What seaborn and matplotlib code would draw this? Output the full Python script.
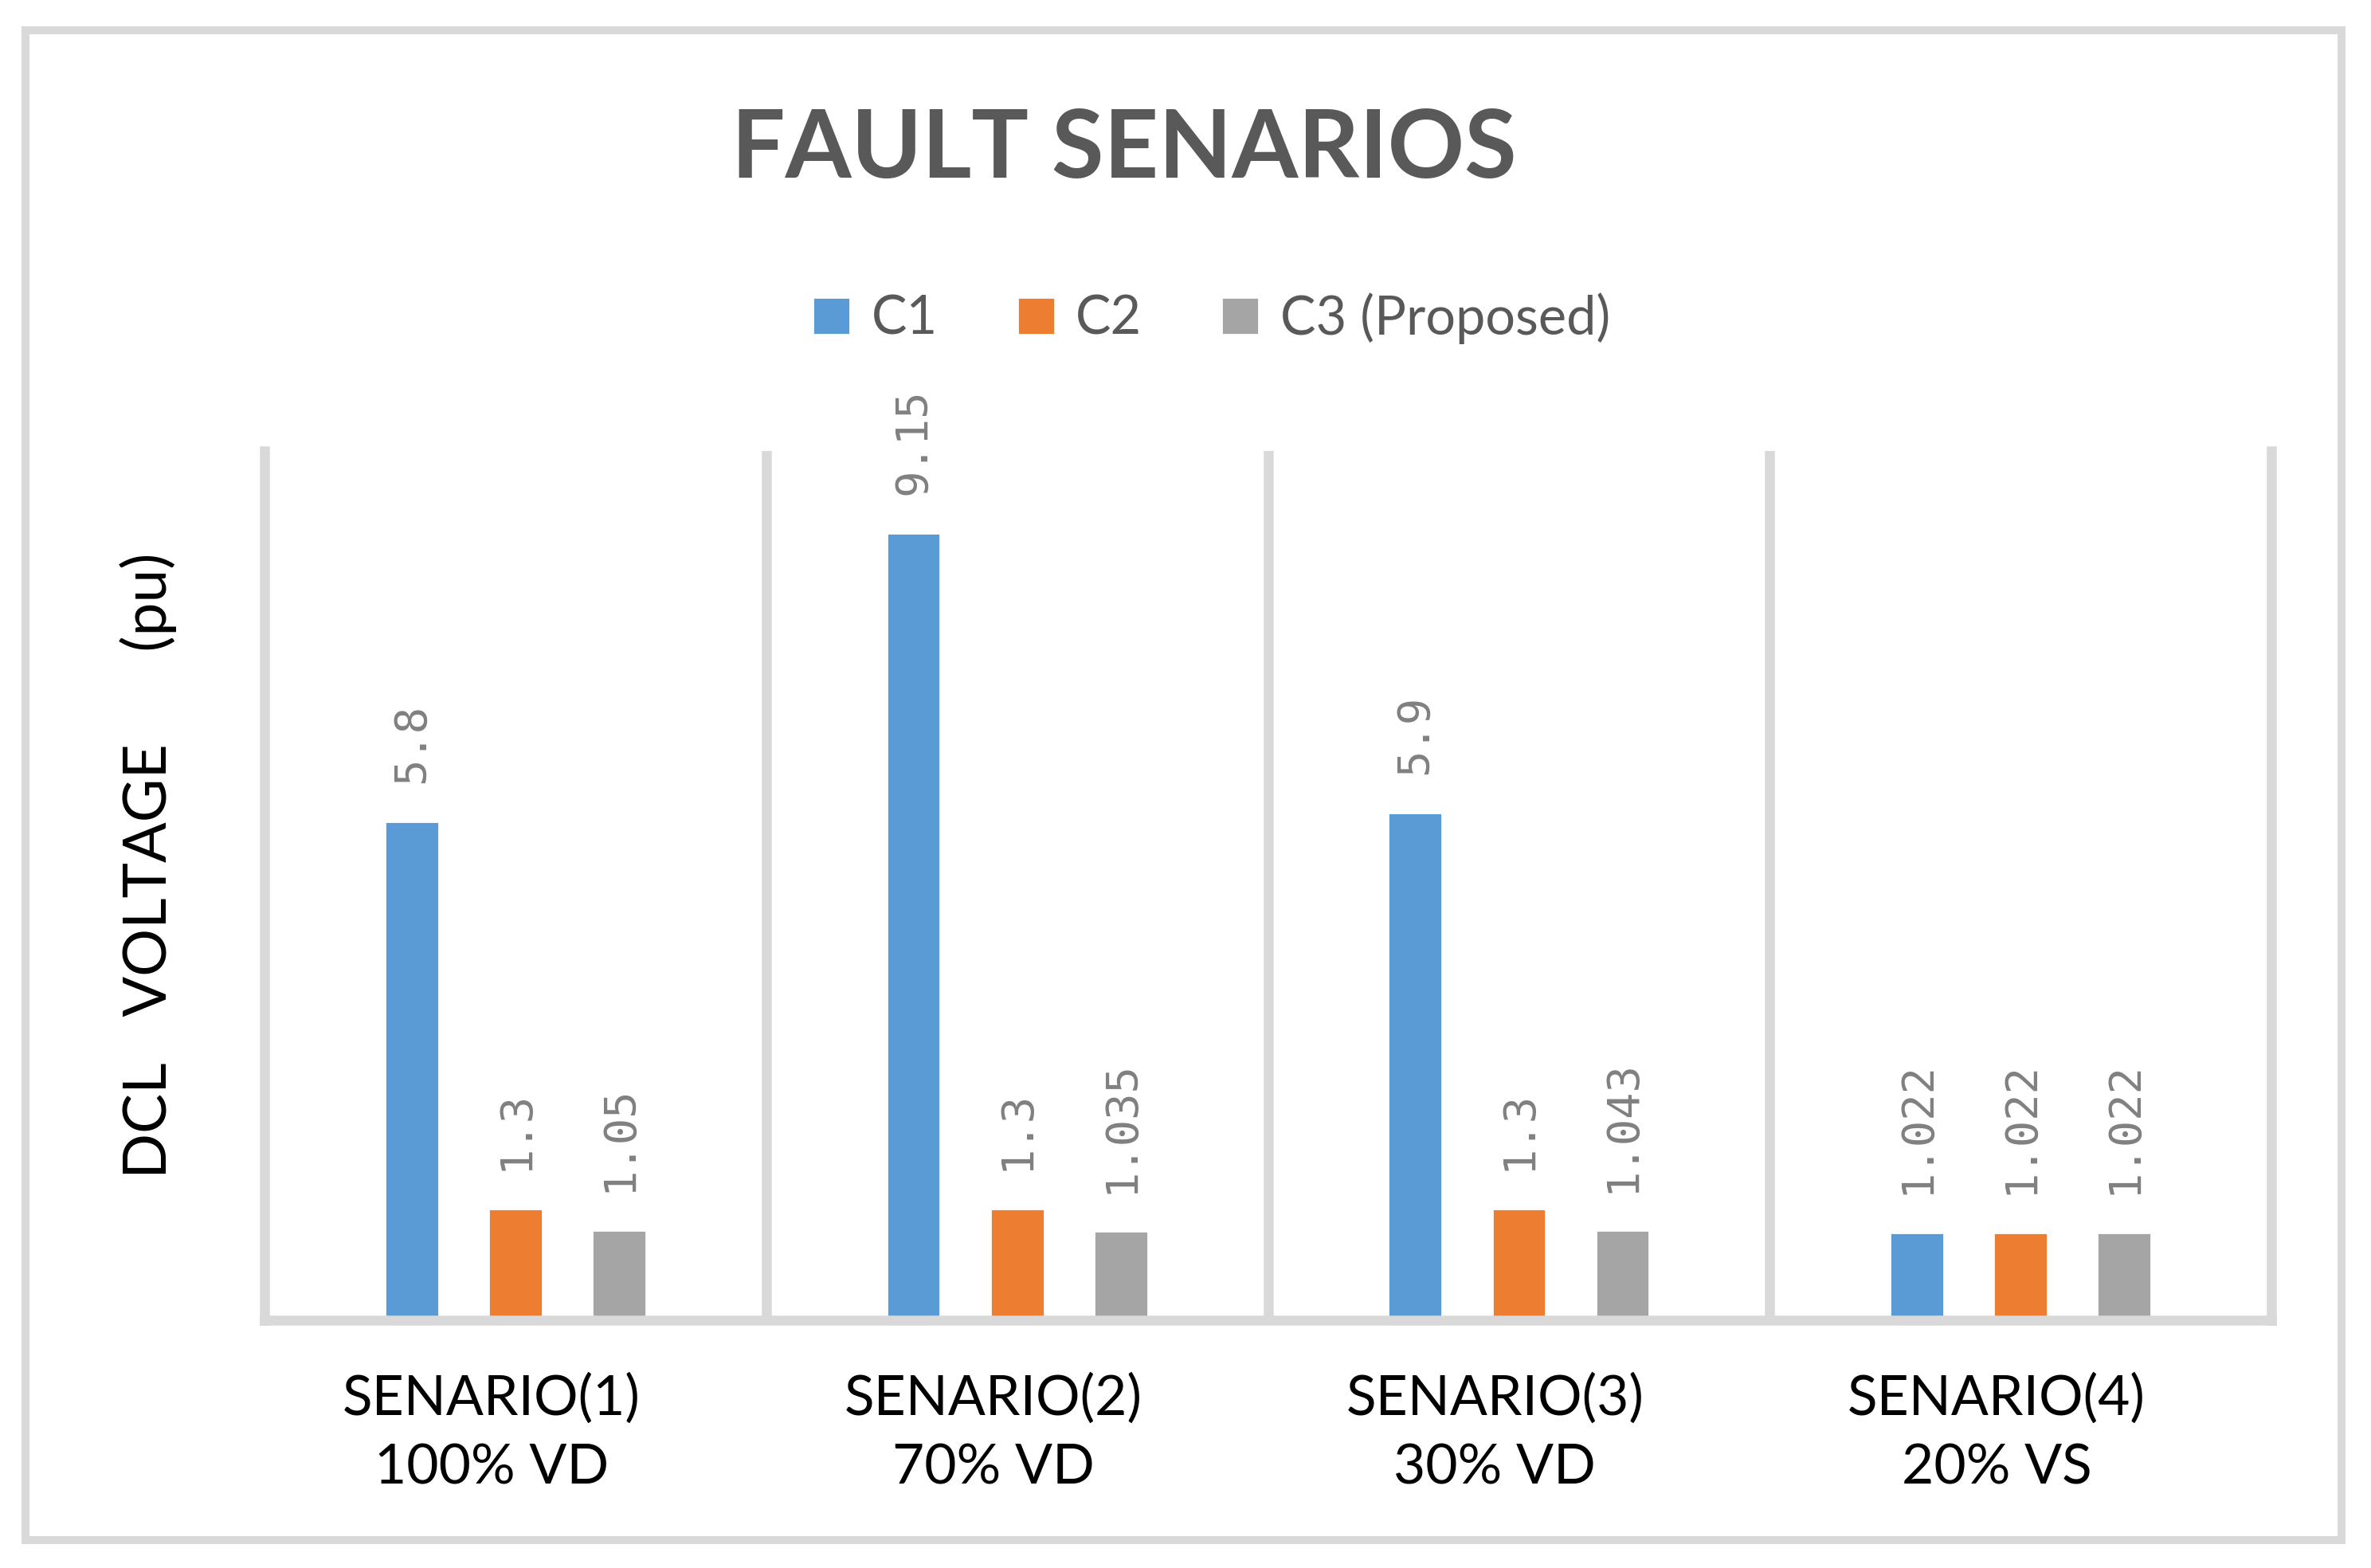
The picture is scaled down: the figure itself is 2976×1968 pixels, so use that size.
import numpy as np
import pandas as pd
import matplotlib
matplotlib.use("Agg")
import matplotlib.pyplot as plt
import matplotlib.transforms as mtransforms
import seaborn as sns
from matplotlib.patches import Rectangle

# --- data
scenarios = ["SENARIO(1)\n100% VD", "SENARIO(2)\n70% VD",
             "SENARIO(3)\n30% VD", "SENARIO(4)\n20% VS"]
series = ["C1", "C2", "C3 (Proposed)"]
c1_values = [5.8, 9.15, 5.9, 1.022]
c2_values = [1.3, 1.3, 1.3, 1.022]
c3_values = [1.05, 1.035, 1.043, 1.022]
colors = ["#5B9BD5", "#ED7D31", "#A5A5A5"]

df = pd.DataFrame({
    "scenario": scenarios * 3,
    "series": [s for s in series for _ in scenarios],
    "value": c1_values + c2_values + c3_values,
})

sns.set_theme(style="white")
plt.rcParams["font.family"] = ["Lato", "DejaVu Sans"]

fig = plt.figure(figsize=(14.88, 9.84), dpi=200)
ax = fig.add_axes([0.1116, 0.158, 0.8464, 0.5544])

sns.barplot(data=df, x="scenario", y="value", hue="series", hue_order=series,
            palette=colors, width=0.62, gap=0.48, saturation=1,
            ax=ax, legend=True)

# data labels, rotated like the original
for cont, vals in zip(ax.containers, [c1_values, c2_values, c3_values]):
    ax.bar_label(cont, labels=[f"{v:g}" for v in vals], rotation=90,
                 padding=17, color="#808080", fontsize=20,
                 family=["DejaVu Sans Mono"])

ax.set_ylim(0, 10.1)
ax.set_xlim(-0.5, len(scenarios) - 0.5)
ax.set_yticks([])
ax.set_xlabel("")
ax.set_ylabel("")
ax.tick_params(axis="x", length=0, pad=24, labelsize=25, labelcolor="black")
# category labels sit a little left of the group centre in the original
shift = mtransforms.ScaledTranslation(-0.15, 0, fig.dpi_scale_trans)
for lbl in ax.get_xticklabels():
    lbl.set_linespacing(1.45)
    lbl.set_transform(lbl.get_transform() + shift)

grid_col = "#D9D9D9"
for side in ["left", "right", "bottom"]:
    ax.spines[side].set_visible(True)
    ax.spines[side].set_color(grid_col)
    ax.spines[side].set_linewidth(4.5)
ax.spines["top"].set_visible(False)
ax.set_xticks(np.arange(len(scenarios) - 1) + 0.5, minor=True)
ax.tick_params(axis="x", which="minor", length=0)
ax.grid(True, which="minor", axis="x", color=grid_col, linewidth=4.5)
ax.grid(False, which="major")

# legend up top
handles, labels = ax.get_legend_handles_labels()
ax.get_legend().remove()
fig.legend(handles, labels, loc="center", bbox_to_anchor=(0.511, 0.797),
           ncol=3, frameon=False, fontsize=24, labelcolor="#595959",
           handlelength=0.7, handleheight=0.7, handletextpad=0.4,
           columnspacing=1.5)

fig.text(0.474, 0.904, "FAULT SENARIOS", ha="center", va="center",
         fontsize=43, fontweight="bold", color="#595959")

fig.text(0.0625, 0.448, "DCL   VOLTAGE      (pu)", rotation=90,
         ha="center", va="center", fontsize=27, color="black")

# outer chart border
fig.add_artist(Rectangle((0.0108, 0.0178), 0.9768, 0.9629,
                         transform=fig.transFigure, fill=False,
                         edgecolor=grid_col, linewidth=3.6))

fig.savefig("out.png", dpi=200)
